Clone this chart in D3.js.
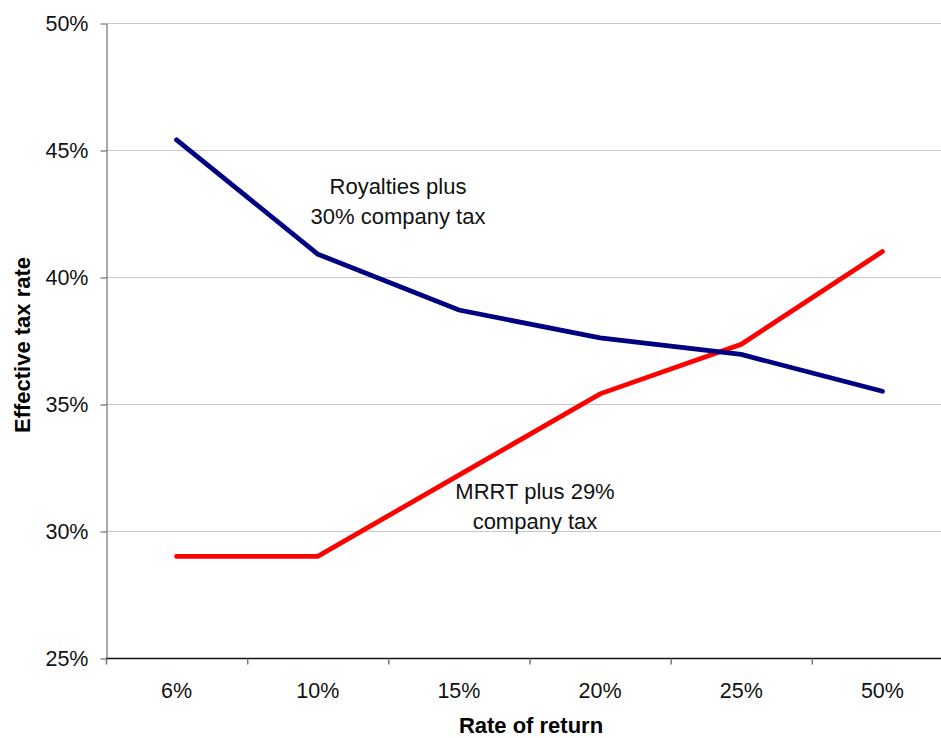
<!DOCTYPE html>
<html>
<head>
<meta charset="utf-8">
<script src="https://cdn.jsdelivr.net/npm/d3@7"></script>
<style>
  body { margin: 0; background: #fff; }
  text { font-family: "Liberation Sans", Arial, sans-serif; }
</style>
</head>
<body>
<script>
// categories on the x axis (rate of return)
let categories = ["6%", "10%", "15%", "20%", "25%", "50%"];

// effective tax rate, percent
let royalties = [45.4, 40.9, 38.7, 37.6, 36.95, 35.5];
let mrrt = [29.0, 29.0, 32.2, 35.4, 37.35, 41.0];

let yTicks = [25, 30, 35, 40, 45, 50];

let plotLeft = 106, plotTop = 23, plotBottom = 658, plotRight = 953;

let viz = d3.select("body")
  .append("svg")
    .attr("width", 941)
    .attr("height", 738)
;

let x = d3.scaleBand().domain(categories).range([plotLeft, plotRight]);
let y = d3.scaleLinear().domain([25, 50]).range([plotBottom, plotTop]);

// gridlines
viz.selectAll(".grid").data(yTicks.slice(1))
  .enter()
    .append("line")
    .attr("x1", plotLeft)
    .attr("x2", plotRight)
    .attr("y1", d => y(d) + 0.5)
    .attr("y2", d => y(d) + 0.5)
    .attr("stroke", "#c8c8c8")
    .attr("stroke-width", 1)
;

// y axis
let yAxis = viz.append("g")
  .attr("transform", "translate(" + (plotLeft + 0.5) + ",0.5)")
  .call(d3.axisLeft(y).tickValues(yTicks).tickFormat(d => d + "%").tickSize(6).tickSizeOuter(0));
yAxis.select(".domain").attr("stroke", "#555");
yAxis.selectAll(".tick line").attr("stroke", "#555");
yAxis.selectAll("text")
  .attr("font-size", 21.5)
  .attr("fill", "#111")
  .attr("x", -18)
  .attr("font-family", "Liberation Sans, Arial, sans-serif");

// x axis: ticks at band boundaries
let xAxis = viz.append("g")
  .attr("transform", "translate(0," + (plotBottom + 0.5) + ")");
xAxis.append("line")
  .attr("x1", plotLeft)
  .attr("x2", plotRight)
  .attr("stroke", "#111")
  .attr("stroke-width", 1.5);
xAxis.selectAll(".xt").data(categories)
  .enter()
    .append("line")
    .attr("x1", d => x(d) + 0.5)
    .attr("x2", d => x(d) + 0.5)
    .attr("y1", 0)
    .attr("y2", 6)
    .attr("stroke", "#777")
    .attr("stroke-width", 1.5)
;
xAxis.selectAll(".xl").data(categories)
  .enter()
    .append("text")
    .attr("x", d => x(d) + x.bandwidth() / 2)
    .attr("y", 39)
    .attr("text-anchor", "middle")
    .attr("font-size", 21.5)
    .attr("fill", "#111")
    .text(d => d)
;

// axis titles
viz.append("text")
  .attr("x", 531)
  .attr("y", 733)
  .attr("text-anchor", "middle")
  .attr("font-size", 22)
  .attr("font-weight", "bold")
  .text("Rate of return");

viz.append("text")
  .attr("transform", "translate(30,345) rotate(-90)")
  .attr("text-anchor", "middle")
  .attr("font-size", 22)
  .attr("font-weight", "bold")
  .text("Effective tax rate");

// lines
let line = d3.line()
  .x((d, i) => x(categories[i]) + x.bandwidth() / 2)
  .y(d => y(d));

viz.append("path")
  .attr("d", line(mrrt))
  .attr("fill", "none")
  .attr("stroke", "#ff0000")
  .attr("stroke-width", 4.8)
  .attr("stroke-linecap", "round");

viz.append("path")
  .attr("d", line(royalties))
  .attr("fill", "none")
  .attr("stroke", "#000080")
  .attr("stroke-width", 4.8)
  .attr("stroke-linecap", "round");

// annotations
function label(lines, cx, y0) {
  viz.append("text")
    .attr("text-anchor", "middle")
    .attr("font-size", 22)
    .attr("fill", "#111")
    .selectAll("tspan").data(lines)
    .enter()
      .append("tspan")
      .attr("x", cx)
      .attr("y", (d, i) => y0 + i * 30)
      .text(d => d);
}
label(["Royalties plus", "30% company tax"], 398, 194);
label(["MRRT plus 29%", "company tax"], 535, 499);
</script>
</body>
</html>
